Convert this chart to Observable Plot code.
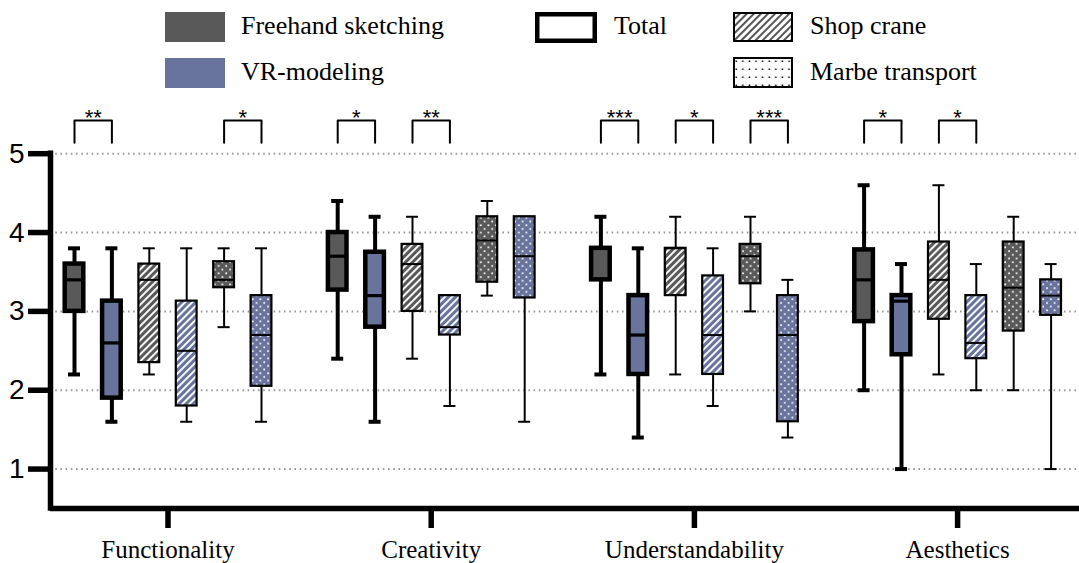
<!DOCTYPE html>
<html><head><meta charset="utf-8">
<script src="https://cdn.jsdelivr.net/npm/d3@7"></script>
<script src="https://cdn.jsdelivr.net/npm/@observablehq/plot@0.6"></script>
<style>
body{margin:0;background:#fff;}
#wrap{position:relative;width:1079px;height:563px;overflow:hidden;background:#fff;}
#legend{position:relative;width:1079px;height:90px;font-family:"Liberation Serif","Times New Roman",serif;font-size:26px;color:#000;}
#legend svg{position:absolute;display:block;}
#legend span{position:absolute;line-height:30px;white-space:nowrap;}
#chart svg{display:block;}
</style></head><body>
<div id="wrap"><div id="legend"></div><div id="chart"></div></div>
<script>
// ---------------- data ----------------
const categories = ["Functionality", "Creativity", "Understandability", "Aesthetics"];
const methods = ["Freehand sketching", "VR-modeling"];
const tasks = ["Total", "Shop crane", "Marbe transport"];
// order of the six boxes inside each category
const boxMethod = [0, 1, 0, 1, 0, 1];
const boxTask = [0, 0, 1, 1, 2, 2];
// one row per category, one column per box
const whiskerLow = [
  [2.2, 1.6, 2.2, 1.6, 2.8, 1.6],
  [2.4, 1.6, 2.4, 1.8, 3.2, 1.6],
  [2.2, 1.4, 2.2, 1.8, 3.0, 1.4],
  [2.0, 1.0, 2.2, 2.0, 2.0, 1.0]
];
const q1 = [
  [3.0, 1.9, 2.35, 1.8, 3.3, 2.05],
  [3.27, 2.8, 3.0, 2.7, 3.37, 3.17],
  [3.4, 2.2, 3.2, 2.2, 3.35, 1.6],
  [2.87, 2.45, 2.9, 2.4, 2.75, 2.95]
];
const median = [
  [3.4, 2.6, 3.4, 2.5, 3.4, 2.7],
  [3.7, 3.2, 3.6, 2.8, 3.9, 3.7],
  [3.8, 2.7, 3.8, 2.7, 3.7, 2.7],
  [3.4, 3.13, 3.4, 2.6, 3.3, 3.2]
];
const q3 = [
  [3.6, 3.13, 3.6, 3.13, 3.63, 3.2],
  [4.0, 3.75, 3.85, 3.2, 4.2, 4.2],
  [3.8, 3.2, 3.8, 3.45, 3.85, 3.2],
  [3.78, 3.2, 3.88, 3.2, 3.88, 3.4]
];
const whiskerHigh = [
  [3.8, 3.8, 3.8, 3.8, 3.8, 3.8],
  [4.4, 4.2, 4.2, 3.2, 4.4, 4.2],
  [4.2, 3.8, 4.2, 3.8, 4.2, 3.4],
  [4.6, 3.6, 4.6, 3.6, 4.2, 3.6]
];
// significance brackets
const sigCategory = [0, 0, 1, 1, 2, 2, 2, 3, 3];
const sigFrom = [0, 4, 0, 2, 0, 2, 4, 0, 2];
const sigTo = [1, 5, 1, 3, 1, 3, 5, 1, 3];
const sigLabel = ["**", "*", "*", "**", "***", "*", "***", "*", "*"];
const yTicks = [1, 2, 3, 4, 5];

// ---------------- layout / style ----------------
const W = 1079, LEGEND_H = 90, H = 563 - LEGEND_H;
const colors = ["#595959", "#68749b"];
const pitch = 37.4 / 263.2;          // box spacing in category units
const halfTotal = 9.3 / 263.2, halfThin = 10.4 / 263.2, capHalf = 6 / 263.2;
const bracketLow = 5.14, bracketHigh = 5.42;

const rows = [];
categories.forEach((c, ci) => {
  boxMethod.forEach((m, bi) => {
    const t = boxTask[bi];
    rows.push({
      category: c, method: methods[m], task: tasks[t], m, t,
      x: ci + (bi - 2.5) * pitch,
      half: t === 0 ? halfTotal : halfThin,
      low: whiskerLow[ci][bi], q1: q1[ci][bi], med: median[ci][bi],
      q3: q3[ci][bi], high: whiskerHigh[ci][bi]
    });
  });
});
const total = rows.filter(d => d.t === 0);
const thin = rows.filter(d => d.t !== 0);
const fillOf = d => d.t === 0 ? colors[d.m] : `url(#${d.t === 1 ? "hatch" : "dots"}-${d.m})`;

const brackets = [], stars = [];
sigLabel.forEach((lab, i) => {
  const ci = sigCategory[i];
  const xa = ci + (sigFrom[i] - 2.5) * pitch, xb = ci + (sigTo[i] - 2.5) * pitch;
  brackets.push({id: i, x: xa, y: bracketLow}, {id: i, x: xa, y: bracketHigh},
                {id: i, x: xb, y: bracketHigh}, {id: i, x: xb, y: bracketLow});
  stars.push({x: (xa + xb) / 2, y: bracketHigh, label: lab});
});

function boxMarks(data, sw, wsw, msw) {
  return [
    Plot.ruleX(data, {x: "x", y1: "low", y2: "high", stroke: "#000", strokeWidth: wsw}),
    Plot.ruleY(data, {y: "low", x1: d => d.x - capHalf, x2: d => d.x + capHalf, stroke: "#000", strokeWidth: wsw}),
    Plot.ruleY(data, {y: "high", x1: d => d.x - capHalf, x2: d => d.x + capHalf, stroke: "#000", strokeWidth: wsw}),
    Plot.rect(data, {x1: d => d.x - d.half, x2: d => d.x + d.half, y1: "q1", y2: "q3", fill: fillOf, stroke: "#000", strokeWidth: sw}),
    Plot.ruleY(data, {y: "med", x1: d => d.x - d.half, x2: d => d.x + d.half, stroke: "#000", strokeWidth: msw})
  ];
}

const x0 = (50 - 167.5) / 263.2, x1 = (1079 - 167.5) / 263.2;
const chart = Plot.plot({
  width: W, height: H,
  marginLeft: 50, marginRight: 0, marginTop: 8, marginBottom: 55,
  x: {domain: [x0, x1]},
  y: {domain: [0.5, 5.7]},
  style: {background: "#fff", overflow: "visible"},
  marks: [
    Plot.ruleY(yTicks, {stroke: "#9a9a9a", strokeWidth: 2, strokeDasharray: "1.6 3.6"}),
    ...boxMarks(thin, 2.2, 2, 2),
    ...boxMarks(total, 4.5, 4, 3.2),
    Plot.line(brackets, {x: "x", y: "y", z: "id", stroke: "#000", strokeWidth: 2, curve: "linear"}),
    Plot.text(stars, {x: "x", y: "y", text: "label", lineAnchor: "bottom", dy: 4, fontSize: 22,
      fontFamily: "Liberation Sans, Arial, sans-serif", fill: "#000", style: "letter-spacing:2px"}),
    Plot.ruleY([0.5], {stroke: "#000", strokeWidth: 5.5}),
    Plot.ruleX([x0], {y1: 0.5, y2: 5, stroke: "#000", strokeWidth: 5.5, strokeLinecap: "square"}),
    Plot.axisY({ticks: yTicks, tickFormat: d3.format("d"), tickSize: 22, tickPadding: 4, strokeWidth: 5.5, stroke: "#000",
      fontSize: 28, fontFamily: "Liberation Sans, Arial, sans-serif", fill: "#000", label: null}),
    Plot.axisX({ticks: [0, 1, 2, 3], tickFormat: i => categories[i], tickSize: 20, tickPadding: 12,
      strokeWidth: 5.5, stroke: "#000", fontSize: 25, fontFamily: "Liberation Serif, Times New Roman, serif",
      fill: "#000", label: null})
  ]
});

// pattern definitions for the hatched / dotted boxes
const defs = d3.select(chart).insert("defs", ":first-child");
colors.forEach((c, m) => {
  const h = defs.append("pattern").attr("id", `hatch-${m}`).attr("patternUnits", "userSpaceOnUse")
    .attr("width", 5).attr("height", 5).attr("patternTransform", "rotate(45)");
  h.append("rect").attr("width", 5).attr("height", 5).attr("fill", c);
  h.append("rect").attr("width", 1.9).attr("height", 5).attr("fill", "#fff");
  const p = defs.append("pattern").attr("id", `dots-${m}`).attr("patternUnits", "userSpaceOnUse")
    .attr("width", 7.6).attr("height", 7.4);
  p.append("rect").attr("width", 7.6).attr("height", 7.4).attr("fill", c);
  p.append("rect").attr("x", 1.2).attr("y", 1.2).attr("width", 1.7).attr("height", 1.7).attr("fill", "#fff");
  p.append("rect").attr("x", 5).attr("y", 4.9).attr("width", 1.7).attr("height", 1.7).attr("fill", "#fff");
});
document.getElementById("chart").appendChild(chart);

// ---------------- legend ----------------
const legend = d3.select("#legend");
function swatch(left, top, w, h, draw) {
  const s = legend.append("svg").attr("width", w).attr("height", h).style("left", left + "px").style("top", top + "px");
  draw(s, w, h);
}
function label(left, top, text) {
  legend.append("span").style("left", left + "px").style("top", top + "px").text(text);
}
swatch(165, 12, 60, 30, (s, w, h) => s.append("rect").attr("width", w).attr("height", h).attr("fill", colors[0]));
label(241, 11, methods[0]);
swatch(165, 58, 60, 30, (s, w, h) => s.append("rect").attr("width", w).attr("height", h).attr("fill", colors[1]));
label(241, 57, methods[1]);
swatch(535, 12, 62, 31, (s, w, h) => s.append("rect").attr("x", 2.25).attr("y", 2.25).attr("width", w - 4.5).attr("height", h - 4.5)
  .attr("fill", "#fff").attr("stroke", "#000").attr("stroke-width", 4.5));
label(614, 11, tasks[0]);
swatch(733, 12, 60, 30, (s, w, h) => {
  const pd = s.append("defs").append("pattern").attr("id", "lg-hatch").attr("patternUnits", "userSpaceOnUse")
    .attr("width", 5).attr("height", 5).attr("patternTransform", "rotate(45)");
  pd.append("rect").attr("width", 5).attr("height", 5).attr("fill", "#fff");
  pd.append("rect").attr("width", 2).attr("height", 5).attr("fill", "#555");
  s.append("rect").attr("x", 1).attr("y", 1).attr("width", w - 2).attr("height", h - 2)
    .attr("fill", "url(#lg-hatch)").attr("stroke", "#000").attr("stroke-width", 2);
});
label(810, 11, tasks[1]);
swatch(733, 57, 60, 31, (s, w, h) => {
  const pd = s.append("defs").append("pattern").attr("id", "lg-dots").attr("patternUnits", "userSpaceOnUse")
    .attr("width", 6.6).attr("height", 8);
  pd.append("rect").attr("width", 6.6).attr("height", 8).attr("fill", "#fff");
  pd.append("rect").attr("x", 2.5).attr("y", 3.5).attr("width", 1.5).attr("height", 1.5).attr("fill", "#000");
  s.append("rect").attr("x", 1).attr("y", 1).attr("width", w - 2).attr("height", h - 2)
    .attr("fill", "url(#lg-dots)").attr("stroke", "#000").attr("stroke-width", 2);
});
label(810, 57, tasks[2]);
</script>
</body></html>
